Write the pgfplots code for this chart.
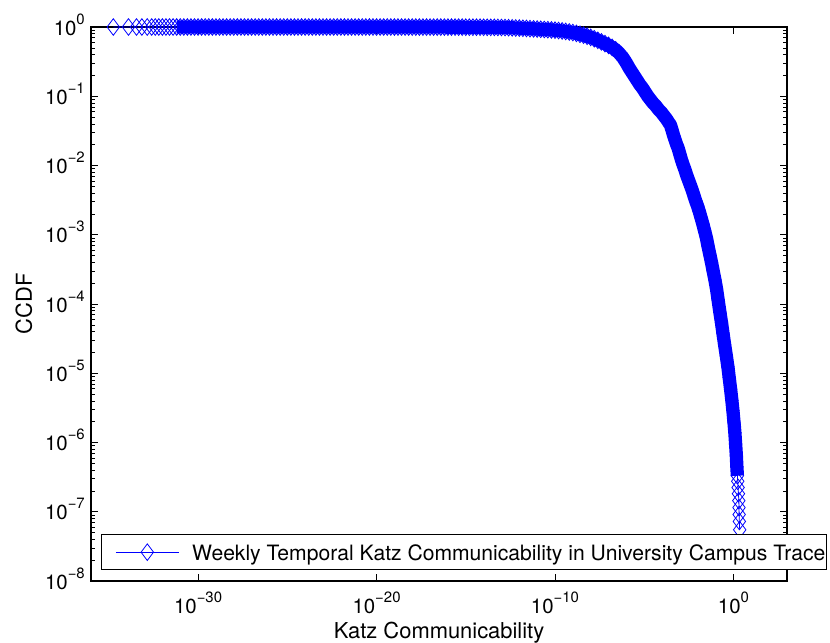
\documentclass[border=0pt]{standalone}
\usepackage{fontspec}
\setmainfont{TeX Gyre Heros}
\usepackage{pgfplots}
\usepackage{pgfplotstable}
\pgfplotsset{compat=1.18}
\newcommand{\tl}[1]{10\raisebox{11bp}{\fontsize{15}{15}\selectfont #1}}

\pgfplotstableread{
x y
1.778e-35 1
1.259e-34 1
3.548e-34 1
7.079e-34 1
1.413e-33 1
2.512e-33 1
3.981e-33 1
6.310e-33 1
1e-32 1
1.585e-32 1
2.512e-32 1
3.981e-32 1
6.310e-32 1
1e-31 1
1.585e-31 1
2.512e-31 1
3.981e-31 1
6.310e-31 1
1e-30 1
1.585e-30 1
2.512e-30 1
3.981e-30 1
6.310e-30 1
1e-29 1
1.585e-29 1
2.512e-29 1
3.981e-29 1
6.310e-29 1
1e-28 1
1.585e-28 1
2.512e-28 1
3.981e-28 1
6.310e-28 1
1e-27 1
1.585e-27 1
2.512e-27 1
3.981e-27 1
6.310e-27 1
1e-26 1
1.585e-26 1
2.512e-26 1
3.981e-26 1
6.310e-26 1
1e-25 1
1.585e-25 1
2.512e-25 1
3.981e-25 1
6.310e-25 1
1e-24 1
1.585e-24 1
2.512e-24 1
3.981e-24 1
6.310e-24 1
1e-23 1
1.585e-23 1
2.512e-23 1
3.981e-23 1
6.310e-23 1
1e-22 1
1.585e-22 1
2.512e-22 1
3.981e-22 1
6.310e-22 1
1e-21 1
1.585e-21 1
2.512e-21 1
3.981e-21 1
6.310e-21 1
1e-20 0.9995
1.585e-20 0.9995
2.512e-20 0.9995
3.981e-20 0.9995
6.310e-20 0.9995
1e-19 0.999
1.585e-19 0.999
2.512e-19 0.999
3.981e-19 0.999
6.310e-19 0.999
1e-18 0.998
1.585e-18 0.998
2.512e-18 0.998
3.981e-18 0.998
6.310e-18 0.998
1e-17 0.997
1.585e-17 0.997
2.512e-17 0.997
3.981e-17 0.997
6.310e-17 0.997
1e-16 0.996
1.585e-16 0.996
2.512e-16 0.996
3.981e-16 0.996
6.310e-16 0.996
1e-15 0.994
1.585e-15 0.994
2.512e-15 0.994
3.981e-15 0.994
6.310e-15 0.994
1e-14 0.991
1.585e-14 0.990
2.512e-14 0.989
3.981e-14 0.988
6.310e-14 0.986
1e-13 0.9840
1.585e-13 0.9817
2.512e-13 0.9772
3.981e-13 0.9727
6.310e-13 0.9683
1e-12 0.9638
1.585e-12 0.9594
2.512e-12 0.9528
3.981e-12 0.9462
6.310e-12 0.9397
1e-11 0.9333
1.585e-11 0.9268
2.512e-11 0.9204
3.981e-11 0.9141
6.310e-11 0.9078
1e-10 0.8995
1.585e-10 0.8892
2.512e-10 0.8770
3.981e-10 0.8630
6.310e-10 0.8472
1e-9 0.8318
1.585e-9 0.8091
2.512e-9 0.7852
3.981e-9 0.7621
6.310e-9 0.7362
1e-8 0.7079
1.585e-8 0.6761
2.512e-8 0.6427
3.981e-8 0.6095
6.310e-8 0.5754
1e-7 0.5433
1.585e-7 0.5070
2.512e-7 0.4677
3.981e-7 0.4169
6.310e-7 0.3631
1e-6 0.3020
1.413e-6 0.2570
1.995e-6 0.2239
2.818e-6 0.1950
3.981e-6 0.1698
5.623e-6 0.1479
7.943e-6 0.1318
1.122e-5 0.1148
1.585e-5 0.1
2.239e-5 0.08913
3.162e-5 0.07943
4.467e-5 0.07244
6.310e-5 0.06457
8.913e-5 0.05888
1.259e-4 0.05248
1.778e-4 0.04677
2.512e-4 0.04074
2.951e-4 0.03846
3.631e-4 0.03236
4.467e-4 0.02692
5.495e-4 0.02291
6.607e-4 0.01995
7.943e-4 0.01778
1e-3 0.01445
1.230e-3 0.01202
1.514e-3 0.01023
1.905e-3 8.710e-3
2.399e-3 7.244e-3
3.020e-3 6.166e-3
3.802e-3 5.248e-3
4.786e-3 4.467e-3
6.026e-3 3.715e-3
7.586e-3 3.090e-3
9.550e-3 2.630e-3
1.202e-2 2.188e-3
1.514e-2 1.778e-3
1.905e-2 1.445e-3
2.399e-2 1.148e-3
3.020e-2 9.120e-4
3.802e-2 6.761e-4
4.677e-2 5.248e-4
5.888e-2 3.981e-4
7.244e-2 3.020e-4
9.120e-2 2.239e-4
0.1122 1.660e-4
0.1380 1.148e-4
0.1738 7.586e-5
0.2138 5.370e-5
0.2570 3.802e-5
0.3162 2.630e-5
0.3981 1.778e-5
0.4898 1.230e-5
0.5754 8.710e-6
0.6918 5.888e-6
0.8128 4.074e-6
0.9333 2.884e-6
1.072 1.950e-6
1.202 1.380e-6
1.318 9.550e-7
1.445 6.607e-7
1.549 4.467e-7
1.660 3.311e-7
1.738 2.754e-7
1.820 2.239e-7
1.905 1.820e-7
1.995 1.445e-7
2.042 1.148e-7
2.089 9.120e-8
2.138 7.244e-8
2.239 5.495e-8
}\katz

\begin{document}
\begin{tikzpicture}
\begin{axis}[
  set layers=standard,
  at={(0,0)}, anchor=south west,
  scale only axis, width=696bp, height=554bp,
  xmode=log, ymode=log,
  xmin=1e-36, xmax=1e3, ymin=1e-8, ymax=1,
  xtick={1e-30,1e-20,1e-10,1},
  xticklabels={\tl{−30},\tl{−20},\tl{−10},\tl{0}},
  ytick={1e-8,1e-7,1e-6,1e-5,1e-4,1e-3,1e-2,1e-1,1},
  yticklabels={\tl{−8},\tl{−7},\tl{−6},\tl{−5},\tl{−4},\tl{−3},\tl{−2},\tl{−1},\tl{0}},
  xminorticks=false,
  major tick length=7.5bp, minor tick length=3.7bp,
  every tick/.style={black, line width=0.6bp},
  axis line style={line width=1.2bp},
  tick label style={font=\fontsize{20.5}{23}\selectfont},
  xticklabel style={anchor=base, yshift=-32bp, inner sep=0pt},
  yticklabel style={anchor=base east, xshift=-6bp, yshift=-8.25bp, inner sep=0pt},
  xlabel={Katz Communicability}, ylabel={CCDF},
  every axis x label/.style={at={(axis description cs:0.5,0)}, anchor=base, yshift=-57bp, font=\fontsize{22}{26}\selectfont},
  every axis y label/.style={at={(axis description cs:-0.0963,0.5)}, rotate=90, anchor=center, font=\fontsize{22}{26}\selectfont},
  clip=false,
  legend cell align=left,
  legend style={at={(axis description cs:0.01437,0.01986)}, anchor=south west, draw=black, line width=0.8bp, fill=white, inner xsep=1.5bp, inner ysep=0bp, font=\fontsize{21.2}{25}\selectfont, nodes={inner sep=0pt, text depth=0pt}, column sep=0pt},
  legend image code/.code={\path (-12.5bp,-17bp) (76bp,17bp); \draw[mark repeat=2,mark phase=2,#1] plot coordinates {(0bp,0bp) (31.5bp,0bp) (63bp,0bp)};},
]
\addplot[forget plot, color=blue, line width=13.3bp, line join=round, skip coords between index={0}{12}, skip coords between index={200}{208}] table[x=x,y=y] {\katz};
\addplot[color=blue, line width=0.8bp, mark=diamond, mark size=8.3bp, mark options={solid}] table[x=x,y=y] {\katz};
\addlegendentry{Weekly Temporal Katz Communicability in University Campus Trace}
\end{axis}
\pgfresetboundingbox
\path (-91bp,-62bp) rectangle (739bp,581bp);
\end{tikzpicture}
\end{document}
